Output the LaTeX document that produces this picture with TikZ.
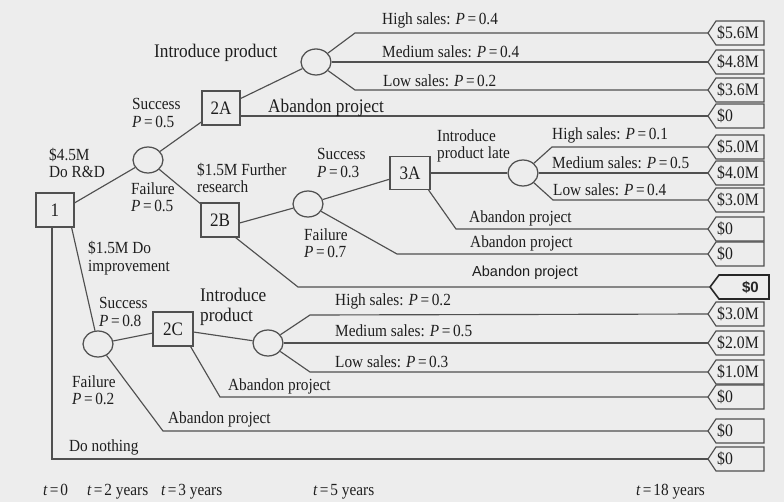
\documentclass[tikz,border=0pt]{standalone}
\usepackage{fontspec}
\setmainfont[FakeStretch=0.9]{Liberation Serif}
\newfontfamily\sansf{Liberation Sans}
\usetikzlibrary{shapes.geometric}
\definecolor{bg}{RGB}{237,237,237}
\definecolor{ln}{RGB}{80,80,80}
\definecolor{tx}{RGB}{30,30,30}
\newcommand{\eqP}[1]{\textit{P}\hspace{0.15em}=\hspace{0.15em}#1}
\newcommand{\eqT}[1]{\textit{t}\hspace{0.12em}=\hspace{0.12em}#1}
\newcommand{\paytag}[3]{%
  \coordinate (#1) at (708,#2);
  \draw[tagline] (#1) -- ++(8,-12) -- ++(48,0) -- ++(0,24) -- ++(-48,0) -- cycle;
  \node[tagtext] (#1t) at (717,#2) {#3};}
\tikzset{
  conn/.style={draw=ln, line width=1.15pt},
  dbox/.style={draw=ln, line width=1.25pt, minimum width=38pt, minimum height=34pt, inner sep=0pt,
    font=\fontsize{19}{19}\selectfont, text=tx, fill=bg},
  chance/.style={ellipse, draw=ln, line width=1.25pt, minimum width=30pt, minimum height=26pt,
    inner sep=0pt, fill=bg},
  lbl/.style={text=tx, inner sep=0pt, align=left, anchor=west, font=\fontsize{17}{17.5}\selectfont},
  biglbl/.style={lbl, font=\fontsize{19.2}{20}\selectfont},
  sanslbl/.style={lbl, font=\sansf\fontsize{14.5}{16}\selectfont},
  tmlbl/.style={lbl, anchor=base west},
  tagline/.style={draw=ln, line width=1.15pt},
  boldtag/.style={draw=black!85, line width=1.6pt},
  tagtext/.style={text=tx, inner sep=0pt, anchor=west, font=\fontsize{17.5}{17.5}\selectfont},
}
\begin{document}
\begin{tikzpicture}[x=1pt, y=-1pt]
\fill[bg] (0,0) rectangle (784,502);
\useasboundingbox (0,0) rectangle (784,502);

% decision and chance nodes
\node[dbox] (n1) at (55,210) {1};
\node[chance] (cRD) at (148,160) {};
\node[dbox] (n2A) at (221,108) {2A};
\node[chance] (c2A) at (316,62) {};
\node[dbox] (n2B) at (220,220) {2B};
\node[chance] (c2B) at (308,204) {};
\node[dbox, minimum width=40pt, minimum height=33pt] (n3A) at (410,173) {3A};
\node[chance] (c3A) at (523,173) {};
\node[chance] (cImp) at (98,344) {};
\node[dbox, minimum width=40pt] (n2C) at (173,329) {2C};
\node[chance] (c2C) at (268,343) {};

% payoff tags
\paytag{t1}{33}{\$5.6M}
\paytag{t2}{62}{\$4.8M}
\paytag{t3}{90}{\$3.6M}
\paytag{t4}{116}{\$0}
\paytag{t5}{147}{\$5.0M}
\paytag{t6}{173}{\$4.0M}
\paytag{t7}{200}{\$3.0M}
\paytag{t8}{229}{\$0}
\paytag{t9}{254}{\$0}
\coordinate (t10) at (710,287);
\draw[boldtag] (t10) -- ++(9,-12) -- ++(50,0) -- ++(0,24) -- ++(-50,0) -- cycle;
\node[text=black!85, inner sep=0pt, anchor=east, font=\sansf\bfseries\fontsize{15}{15}\selectfont] (t10t) at (759,287) {\$0};
\paytag{t11}{314}{\$3.0M}
\paytag{t12}{343}{\$2.0M}
\paytag{t13}{372}{\$1.0M}
\paytag{t14}{397}{\$0}
\paytag{t15}{431}{\$0}
\paytag{t16}{459}{\$0}

% connectors
\draw[conn] (n1.20) -- (cRD);
\draw[conn] (cRD) -- (n2A);
\draw[conn] (cRD) -- (n2B);
\draw[conn] (n2A) -- (c2A);
\draw[conn] (c2A) -- (355,33) -- (t1);
\draw[conn] (c2A) -- (t2);
\draw[conn] (c2A) -- (355,90) -- (t3);
\draw[conn] (n2A.east |- t4) -- (t4);
\draw[conn] ([yshift=-3pt]n2B.east) -- (c2B);
\draw[conn] (c2B) -- (n3A);
\draw[conn] (n3A) -- (c3A);
\draw[conn] (c3A) -- (552,147) -- (t5);
\draw[conn] (c3A) -- (t6);
\draw[conn] (c3A) -- (553,200) -- (t7);
\draw[conn] ([xshift=-2pt]n3A.south east) -- (456,229) -- (t8);
\draw[conn] (c2B) -- (397,254) -- (t9);
\draw[conn] ([xshift=-4pt]n2B.south east) -- (298,287) -- (t10);
\draw[conn] ([xshift=-3pt]n1.south east) -- (cImp);
\draw[conn] (cImp) -- (n2C);
\draw[conn] (n2C) -- (c2C);
\draw[conn] (c2C) -- (310,315) -- (t11);
\draw[conn] (c2C) -- (t12);
\draw[conn] (c2C) -- (310,372) -- (t13);
\draw[conn] ([xshift=-3pt]n2C.south east) -- (220,397) -- (t14);
\draw[conn] (cImp) -- (163,431) -- (t15);
\draw[conn, line width=1.4pt] ([xshift=-3pt]n1.south) -- ([xshift=-3pt]n1.south |- t16) -- (t16);

% labels
\node[biglbl] (lIntro) at (154,53) {Introduce product};
\node[lbl] (lHS1) at (382,20) {High sales: \eqP{0.4}};
\node[lbl] (lMS1) at (382,52) {Medium sales: \eqP{0.4}};
\node[lbl] (lLS1) at (383,81) {Low sales: \eqP{0.2}};
\node[biglbl] (lAb1) at (268,108) {Abandon project};
\node[lbl] (lS1) at (132,113) {Success\\\eqP{0.5}};
\node[lbl] (lRD) at (49,163) {\$4.5M\\Do R\&D};
\node[lbl] (lF1) at (131,197) {Failure\\\eqP{0.5}};
\node[lbl] (lFR) at (197,178) {\$1.5M Further\\research};
\node[lbl] (lS2) at (317,163) {Success\\\eqP{0.3}};
\node[lbl] (lF2) at (304,243) {Failure\\\eqP{0.7}};
\node[lbl] (lIPL) at (437,146) {Introduce\\product late};
\node[lbl] (lHS2) at (552,135) {High sales: \eqP{0.1}};
\node[lbl] (lMS2) at (552,163) {Medium sales: \eqP{0.5}};
\node[lbl] (lLS2) at (553,190) {Low sales: \eqP{0.4}};
\node[lbl] (lAb2) at (469,218) {Abandon project};
\node[lbl] (lAb3) at (470,243) {Abandon project};
\node[sanslbl] (lAb4) at (472,273) {Abandon project};
\node[lbl] (lImp) at (88,258) {\$1.5M Do\\improvement};
\node[lbl] (lS3) at (99,312) {Success\\\eqP{0.8}};
\node[biglbl] (lIP2) at (200,307) {Introduce\\product};
\node[lbl] (lF3) at (72,390) {Failure\\\eqP{0.2}};
\node[lbl] (lHS3) at (335,301) {High sales: \eqP{0.2}};
\node[lbl] (lMS3) at (335,331) {Medium sales: \eqP{0.5}};
\node[lbl] (lLS3) at (335,362) {Low sales: \eqP{0.3}};
\node[lbl] (lAb5) at (228,386) {Abandon project};
\node[lbl] (lAb6) at (168,419) {Abandon project};
\node[lbl] (lDN) at (69,447) {Do nothing};

% time axis
\node[tmlbl] (tm0) at (43,495) {\eqT{0}};
\node[tmlbl] (tm2) at (87,495) {\eqT{2 years}};
\node[tmlbl] (tm3) at (161,495) {\eqT{3 years}};
\node[tmlbl] (tm5) at (313,495) {\eqT{5 years}};
\node[tmlbl] (tm18) at (636,495) {\eqT{18 years}};
\end{tikzpicture}
\end{document}
